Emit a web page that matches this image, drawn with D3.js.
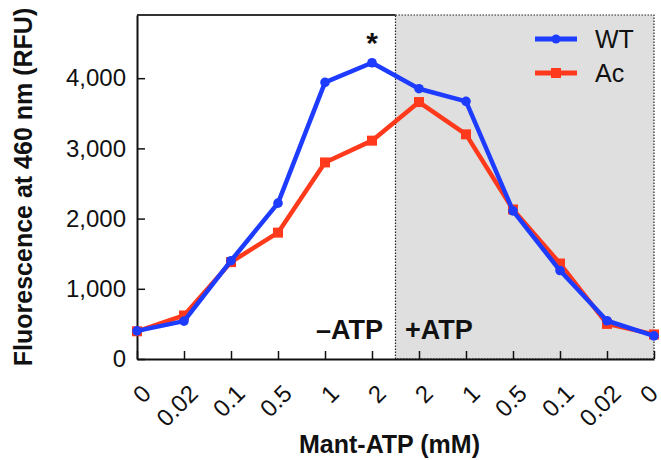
<!DOCTYPE html>
<html>
<head>
<meta charset="utf-8">
<script src="https://cdn.jsdelivr.net/npm/d3@7"></script>
<style>
  body { margin: 0; background: #fff; }
  text { font-family: "Liberation Sans", Arial, Helvetica, sans-serif; fill: #111; }
</style>
</head>
<body>
<div id="chart"></div>
<script>
// x categories: -ATP half then +ATP half (mM Mant-ATP)
const conc_labels = ["0","0.02","0.1","0.5","1","2","2","1","0.5","0.1","0.02","0"];
const wt_values = [400, 540, 1400, 2220, 3940, 4220, 3850, 3670, 2110, 1260, 545, 330];
const ac_values = [395, 620, 1380, 1800, 2800, 3110, 3660, 3200, 2130, 1360, 500, 350];
const y_ticks = [0, 1000, 2000, 3000, 4000];
const series_names = ["WT", "Ac"];
const series_colors = ["#1e3cff", "#ff3a1c"];

const W = 661, H = 460;
const plotLeft = 137, plotRight = 654, plotTop = 15, plotBottom = 359;

const svg = d3.select("#chart").append("svg")
  .attr("width", W)
  .attr("height", H);

const x = d3.scalePoint()
  .domain(d3.range(conc_labels.length))
  .range([plotLeft, plotRight]);

const y = d3.scaleLinear()
  .domain([0, 4900])
  .range([plotBottom, plotTop]);

// divider between -ATP and +ATP
const split = (x(5) + x(6)) / 2;

// shaded +ATP area
svg.append("rect")
  .attr("x", split)
  .attr("y", plotTop)
  .attr("width", plotRight - split)
  .attr("height", plotBottom - plotTop)
  .attr("fill", "#dfdfdf")
  .attr("stroke", "#222")
  .attr("stroke-width", 1.2)
  .attr("stroke-dasharray", "1.5,1.5");

// top frame over the white part
svg.append("line")
  .attr("x1", plotLeft).attr("x2", split)
  .attr("y1", plotTop).attr("y2", plotTop)
  .attr("stroke", "#333")
  .attr("stroke-width", 2);

// x axis
const xAxis = svg.append("g")
  .attr("transform", "translate(0," + plotBottom + ")")
  .call(d3.axisBottom(x).tickSizeInner(-8).tickSizeOuter(0).tickFormat(i => conc_labels[i]));
xAxis.select(".domain").attr("stroke", "#111").attr("stroke-width", 2);
xAxis.selectAll(".tick line").attr("stroke", "#111").attr("stroke-width", 1.5);
xAxis.selectAll(".tick text")
  .attr("x", 0).attr("y", 0).attr("dy", 0)
  .attr("transform", (d, i) => "translate(" + (i === conc_labels.length - 1 ? 5 : 15) + ",36) rotate(-45)")
  .style("text-anchor", "end")
  .style("font-size", "24px");

// y axis
const yAxis = svg.append("g")
  .attr("transform", "translate(" + plotLeft + ",0)")
  .call(d3.axisLeft(y).tickValues(y_ticks).tickSizeInner(-8).tickSizeOuter(0).tickPadding(11)
    .tickFormat(d3.format(",")));
yAxis.select(".domain").attr("stroke", "#111").attr("stroke-width", 2);
yAxis.selectAll(".tick line").attr("stroke", "#111").attr("stroke-width", 1.5);
yAxis.selectAll(".tick text").style("font-size", "24px");

// lines and markers
const allSeries = [wt_values, ac_values];
const line = d3.line()
  .x((d, i) => x(i))
  .y(d => y(d));

// draw Ac first so WT sits on top
[1, 0].forEach(function(s) {
  svg.append("path")
    .datum(allSeries[s])
    .attr("fill", "none")
    .attr("stroke", series_colors[s])
    .attr("stroke-width", 4.5)
    .attr("stroke-linejoin", "round")
    .attr("d", line);

  if (s === 0) {
    svg.selectAll(".pt-wt")
      .data(allSeries[s])
      .enter().append("circle")
      .attr("class", "pt-wt")
      .attr("cx", (d, i) => x(i))
      .attr("cy", d => y(d))
      .attr("r", 4.8)
      .attr("fill", series_colors[s]);
  } else {
    svg.selectAll(".pt-ac")
      .data(allSeries[s])
      .enter().append("rect")
      .attr("class", "pt-ac")
      .attr("x", (d, i) => x(i) - 5)
      .attr("y", d => y(d) - 5)
      .attr("width", 10)
      .attr("height", 10)
      .attr("fill", series_colors[s]);
  }
});

// legend
const legend = svg.selectAll(".legend")
  .data(series_names)
  .enter().append("g")
  .attr("class", "legend")
  .attr("transform", (d, i) => "translate(535," + (39 + i * 34) + ")");
legend.append("line")
  .attr("x1", 0).attr("x2", 42)
  .attr("stroke", (d, i) => series_colors[i])
  .attr("stroke-width", 5);
legend.filter((d, i) => i === 0).append("circle")
  .attr("cx", 21).attr("r", 4.5)
  .attr("fill", series_colors[0]);
legend.filter((d, i) => i === 1).append("rect")
  .attr("x", 16).attr("y", -5).attr("width", 10).attr("height", 10)
  .attr("fill", series_colors[1]);
legend.append("text")
  .attr("x", 60)
  .attr("dy", "0.36em")
  .style("font-size", "25px")
  .text(d => d);

// -ATP / +ATP labels
svg.append("text")
  .attr("x", 383).attr("y", 339)
  .style("text-anchor", "end")
  .style("font-size", "27px")
  .style("font-weight", "bold")
  .text("\u2013ATP");
svg.append("text")
  .attr("x", 405).attr("y", 339)
  .style("font-size", "27px")
  .style("font-weight", "bold")
  .text("+ATP");

// significance mark
svg.append("text")
  .attr("x", x(5)).attr("y", 53)
  .style("text-anchor", "middle")
  .style("font-size", "30px")
  .style("font-weight", "bold")
  .text("*");

// axis titles
svg.append("text")
  .attr("x", (plotLeft + plotRight) / 2 - 6)
  .attr("y", 453)
  .style("text-anchor", "middle")
  .style("font-size", "25px")
  .style("font-weight", "bold")
  .text("Mant-ATP (mM)");

svg.append("text")
  .attr("transform", "translate(32,187) rotate(-90)")
  .style("text-anchor", "middle")
  .style("font-size", "25px")
  .style("font-weight", "bold")
  .text("Fluorescence at 460 nm (RFU)");
</script>
</body>
</html>
